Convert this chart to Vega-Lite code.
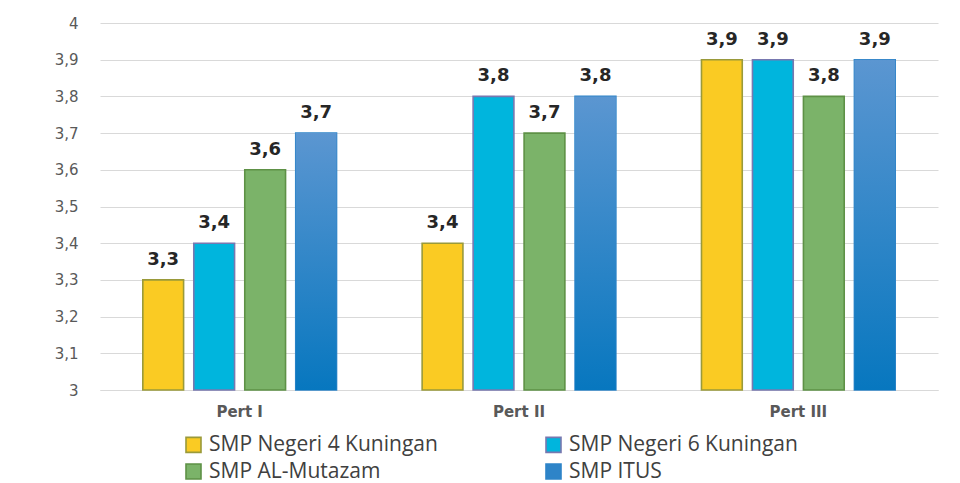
{
  "$schema": "https://vega.github.io/schema/vega-lite/v6.json",
  "width": 838,
  "height": 367,
  "autosize": {"type": "none"},
  "padding": {"left": 100, "top": 23, "right": 22, "bottom": 93},
  "background": "white",
  "config": {
    "locale": {"number": {"decimal": ",", "thousands": ".", "grouping": [3], "currency": ["", ""]}},
    "view": {"stroke": null},
    "axis": {"labelFont": "DejaVu Sans", "labelColor": "#595959", "ticks": false, "title": null}
  },
  "data": {
    "values": [
      {"pert": "Pert I", "series": "SMP Negeri 4 Kuningan", "value": 3.3},
      {"pert": "Pert I", "series": "SMP Negeri 6 Kuningan", "value": 3.4},
      {"pert": "Pert I", "series": "SMP AL-Mutazam", "value": 3.6},
      {"pert": "Pert I", "series": "SMP ITUS", "value": 3.7},
      {"pert": "Pert II", "series": "SMP Negeri 4 Kuningan", "value": 3.4},
      {"pert": "Pert II", "series": "SMP Negeri 6 Kuningan", "value": 3.8},
      {"pert": "Pert II", "series": "SMP AL-Mutazam", "value": 3.7},
      {"pert": "Pert II", "series": "SMP ITUS", "value": 3.8},
      {"pert": "Pert III", "series": "SMP Negeri 4 Kuningan", "value": 3.9},
      {"pert": "Pert III", "series": "SMP Negeri 6 Kuningan", "value": 3.9},
      {"pert": "Pert III", "series": "SMP AL-Mutazam", "value": 3.8},
      {"pert": "Pert III", "series": "SMP ITUS", "value": 3.9}
    ]
  },
  "encoding": {
    "x": {
      "field": "pert", "type": "nominal", "sort": ["Pert I", "Pert II", "Pert III"],
      "scale": {"paddingInner": 0.27, "paddingOuter": 0.135},
      "axis": {"labelAngle": 0, "labelFontWeight": "bold", "labelFontSize": 15, "labelPadding": 14, "domain": true, "domainColor": "#D9D9D9", "grid": false}
    },
    "xOffset": {
      "field": "series", "type": "nominal",
      "scale": {"domain": ["SMP Negeri 4 Kuningan", "SMP Negeri 6 Kuningan", "SMP AL-Mutazam", "SMP ITUS"], "paddingInner": 0.2, "paddingOuter": 0.1}
    },
    "y": {
      "field": "value", "type": "quantitative",
      "scale": {"domain": [3, 4], "zero": false, "nice": false},
      "axis": {"values": [3, 3.1, 3.2, 3.3, 3.4, 3.5, 3.6, 3.7, 3.8, 3.9, 4], "format": "~r", "labelFontSize": 15, "labelPadding": 22, "domain": false, "grid": true, "gridColor": "#D9D9D9", "gridWidth": 1}
    }
  },
  "layer": [
    {
      "mark": {"type": "bar", "strokeWidth": 1.6},
      "encoding": {
        "y2": {"datum": 3},
        "color": {
          "field": "series", "type": "nominal",
          "scale": {"domain": ["SMP Negeri 4 Kuningan", "SMP Negeri 6 Kuningan", "SMP AL-Mutazam", "SMP ITUS"], "range": ["#FACB23", "#00B5DD", "#7BB369", "#2E84C8"]},
          "legend": {
            "orient": "none", "legendX": 83, "legendY": 411, "direction": "horizontal", "columns": 2,
            "columnPadding": 104, "rowPadding": 4, "title": null,
            "labelFont": "Open Sans", "labelFontSize": 21, "labelColor": "#404040", "labelOffset": 5,
            "symbolType": "square", "symbolSize": 225, "symbolStrokeWidth": 1.6, "labelLimit": 400
          }
        },
        "stroke": {
          "field": "series", "type": "nominal",
          "scale": {"domain": ["SMP Negeri 4 Kuningan", "SMP Negeri 6 Kuningan", "SMP AL-Mutazam", "SMP ITUS"], "range": ["#9A9A3A", "#7878B0", "#5E9146", "#2E84C8"]},
          "legend": {
            "orient": "none", "legendX": 83, "legendY": 411, "direction": "horizontal", "columns": 2,
            "columnPadding": 104, "rowPadding": 4, "title": null,
            "labelFont": "Open Sans", "labelFontSize": 21, "labelColor": "#404040", "labelOffset": 5,
            "symbolType": "square", "symbolSize": 225, "symbolStrokeWidth": 1.6, "labelLimit": 400
          }
        }
      }
    },
    {
      "transform": [{"filter": "datum.series === 'SMP ITUS'"}],
      "mark": {
        "type": "bar",
        "color": {"gradient": "linear", "x1": 0, "y1": 0, "x2": 0, "y2": 1, "stops": [{"offset": 0, "color": "#5B96D1"}, {"offset": 1, "color": "#0777BF"}]}
      },
      "encoding": {"y2": {"datum": 3}}
    },
    {
      "mark": {"type": "text", "baseline": "alphabetic", "dy": -15, "font": "DejaVu Sans", "fontWeight": "bold", "fontSize": 18, "color": "#262626"},
      "encoding": {"text": {"field": "value", "type": "quantitative", "format": ".1f"}}
    }
  ]
}
